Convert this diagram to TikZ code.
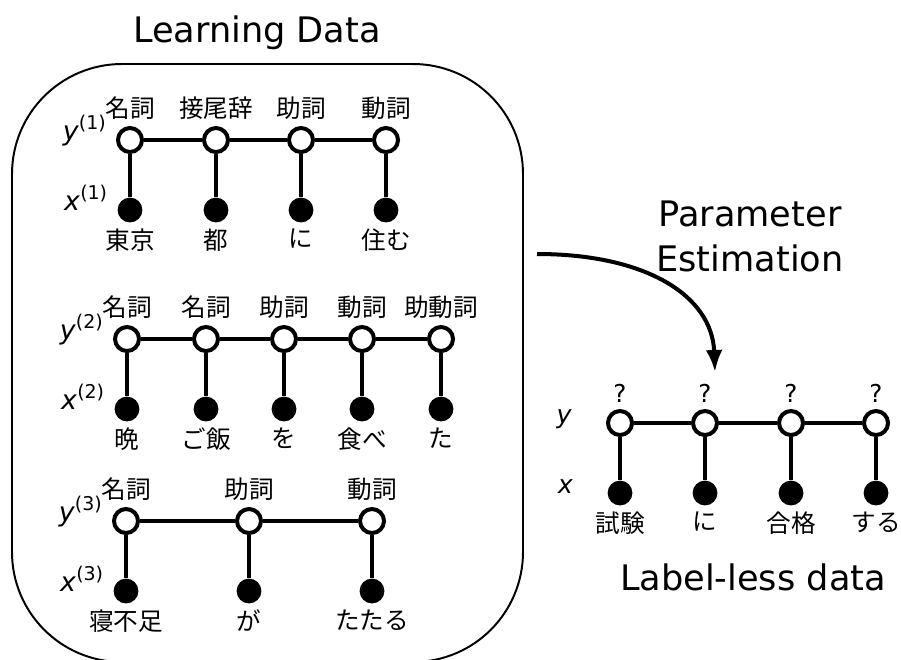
\documentclass[tikz,border=0pt]{standalone}
\usepackage{fontspec}
\setmainfont{DejaVu Sans}
\newfontfamily\jp{Noto Sans CJK JP}
\usetikzlibrary{positioning, arrows.meta}

\newcommand{\rowlab}[2]{\textit{#1}\raisebox{0.4em}{\fontsize{13.5}{14}\selectfont(#2)}}

\begin{document}
\begin{tikzpicture}[x=0.025cm, y=-0.025cm,
    hid/.style={draw, circle, line width=2.85pt, fill=white, minimum size=0.6cm, inner sep=0pt},
    obs/.style={circle, fill=black, minimum size=0.62cm, inner sep=0pt},
    edge/.style={line width=2.85pt},
    every label/.style={font=\jp\fontsize{17.5}{20}\selectfont, label distance=1pt},
    row/.style={font=\fontsize{19}{22}\selectfont},
    big/.style={font=\fontsize{25}{32}\selectfont, align=center},
    node distance=1.75cm]
    \useasboundingbox (0,0) rectangle (901,659);

    % Learning data
    \node[big] (title) at (257,33) {Learning Data};
    \draw[line width=1.4pt, rounded corners=2.75cm] (12,64) rectangle (523,662);

    % Row 1
    \node[hid, label={above:名詞}] (y11) at (130,140) {};
    \node[hid, label={above:接尾辞}] (y12) at (216,140) {};
    \node[hid, label={above:助詞}] (y13) at (301,140) {};
    \node[hid, label={above:動詞}] (y14) at (386,140) {};
    \node[obs, below of=y11, label={below:東京}] (x11) {};
    \node[obs, below of=y12, label={below:都}] (x12) {};
    \node[obs, below of=y13, label={below:に}] (x13) {};
    \node[obs, below of=y14, label={below:住む}] (x14) {};
    \node[row, base left=0.13cm of y11] (ly1) {\rowlab{y}{1}};
    \node[row, base left=0.13cm of x11] (lx1) {\rowlab{x}{1}};

    % Row 2
    \node[hid, label={above:名詞}] (y21) at (127,339) {};
    \node[hid, label={above:名詞}] (y22) at (206,339) {};
    \node[hid, label={above:助詞}] (y23) at (284,339) {};
    \node[hid, label={above:動詞}] (y24) at (362,339) {};
    \node[hid, label={above:助動詞}] (y25) at (441,339) {};
    \node[obs, below of=y21, label={below:晩}] (x21) {};
    \node[obs, below of=y22, label={below:ご飯}] (x22) {};
    \node[obs, below of=y23, label={below:を}] (x23) {};
    \node[obs, below of=y24, label={below:食べ}] (x24) {};
    \node[obs, below of=y25, label={below:た}] (x25) {};
    \node[row, base left=0.13cm of y21] (ly2) {\rowlab{y}{2}};
    \node[row, base left=0.13cm of x21] (lx2) {\rowlab{x}{2}};

    % Row 3
    \node[hid, label={above:名詞}] (y31) at (126,521) {};
    \node[hid, label={above:助詞}] (y32) at (249,521) {};
    \node[hid, label={above:動詞}] (y33) at (372,521) {};
    \node[obs, below of=y31, label={below:寝不足}] (x31) {};
    \node[obs, below of=y32, label={below:が}] (x32) {};
    \node[obs, below of=y33, label={below:たたる}] (x33) {};
    \node[row, base left=0.13cm of y31] (ly3) {\rowlab{y}{3}};
    \node[row, base left=0.13cm of x31] (lx3) {\rowlab{x}{3}};

    % Label-less data
    \node[hid, label={above:\rmfamily ?}] (u1) at (620,423) {};
    \node[hid, label={above:\rmfamily ?}] (u2) at (705,423) {};
    \node[hid, label={above:\rmfamily ?}] (u3) at (791,423) {};
    \node[hid, label={above:\rmfamily ?}] (u4) at (876,423) {};
    \node[obs, below of=u1, label={below:試験}] (w1) {};
    \node[obs, below of=u2, label={below:に}] (w2) {};
    \node[obs, below of=u3, label={below:合格}] (w3) {};
    \node[obs, below of=u4, label={below:する}] (w4) {};
    \node[row, font=\fontsize{18}{21}\selectfont, base left=0.73cm of u1] (lyu) {\textit{y}};
    \node[row, font=\fontsize{18}{21}\selectfont, base left=0.73cm of w1] (lxu) {\textit{x}};
    \node[big] (lld) at (753,577) {Label-less data};

    % Edges
    \draw[edge] (y11) -- (y12) -- (y13) -- (y14);
    \draw[edge] (y11) -- (x11);
    \draw[edge] (y12) -- (x12);
    \draw[edge] (y13) -- (x13);
    \draw[edge] (y14) -- (x14);
    \draw[edge] (y21) -- (y22) -- (y23) -- (y24) -- (y25);
    \draw[edge] (y21) -- (x21);
    \draw[edge] (y22) -- (x22);
    \draw[edge] (y23) -- (x23);
    \draw[edge] (y24) -- (x24);
    \draw[edge] (y25) -- (x25);
    \draw[edge] (y31) -- (y32) -- (y33);
    \draw[edge] (y31) -- (x31);
    \draw[edge] (y32) -- (x32);
    \draw[edge] (y33) -- (x33);
    \draw[edge] (u1) -- (u2) -- (u3) -- (u4);
    \draw[edge] (u1) -- (w1);
    \draw[edge] (u2) -- (w2);
    \draw[edge] (u3) -- (w3);
    \draw[edge] (u4) -- (w4);

    % Parameter estimation
    \coordinate (pe1) at (537,254);
    \coordinate (pe2) at (715,372);
    \draw[edge, -{Latex[length=0.55cm, width=0.42cm]}] (pe1) .. controls (645,254) and (712,295) .. (pe2);
    \node[big] (pe) at (750,236) {Parameter\\Estimation};
\end{tikzpicture}
\end{document}
